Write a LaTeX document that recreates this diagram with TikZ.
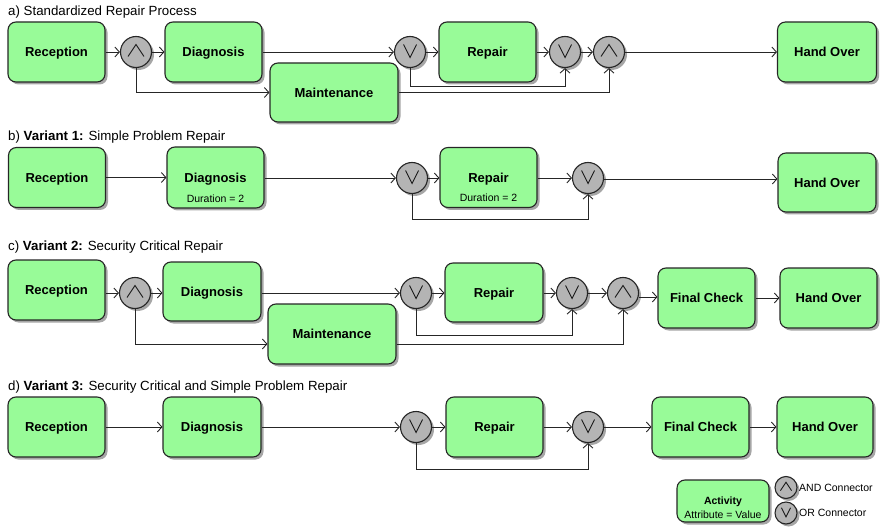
\documentclass[tikz,border=0pt]{standalone}
\usepackage{fontspec}
\setmainfont{Liberation Sans}
\usetikzlibrary{arrows.meta,shadows,calc}
\definecolor{actgreen}{RGB}{152,251,152}
\definecolor{congray}{RGB}{180,180,180}
\tikzset{
 shad/.style={drop shadow={shadow xshift=2.5pt, shadow yshift=-2.5pt, opacity=0.35, fill=black}},
 act/.style={draw=black!85, line width=1.1pt, rounded corners=8pt, fill=actgreen, minimum width=97pt, minimum height=60pt, inner sep=0pt, text height=9.4pt, text depth=0pt, font=\fontsize{13}{15}\selectfont\bfseries, shad},
 con/.style={circle, draw=black!85, line width=1.1pt, fill=congray, minimum size=31pt, inner sep=0pt, shad},
 arr/.style={draw=black!85, line width=0.9pt, -{Straight Barb[length=4.5pt,width=10pt]}},
 sym/.style={draw=black!90, line width=0.9pt},
 title/.style={anchor=west, font=\fontsize{13.3}{15}\selectfont, inner sep=0pt},
 attr/.style={font=\fontsize{10.5}{12}\selectfont, inner sep=0pt}
}
\newcommand\andmark[2][1]{\draw[sym] ([xshift=-8pt*#1,yshift=-4.5pt*#1]#2.center) -- ([yshift=7.5pt*#1]#2.center) -- ([xshift=8pt*#1,yshift=-4.5pt*#1]#2.center);}
\newcommand\ormark[2][1]{\draw[sym] ([xshift=-6.5pt*#1,yshift=7.5pt*#1]#2.center) -- ([yshift=-5.5pt*#1]#2.center) -- ([xshift=6.5pt*#1,yshift=7.5pt*#1]#2.center);}
\begin{document}
\begin{tikzpicture}[x=1pt,y=-1pt]
\useasboundingbox (0,0) rectangle (880,529);
% titles
\node[title] (ta) at (8,12) {a) Standardized Repair Process};
\node[title] (tb) at (8,137) {b) \textbf{Variant 1:} Simple Problem Repair};
\node[title] (tc) at (8,247) {c) \textbf{Variant 2:} Security Critical Repair};
\node[title] (td) at (8,387) {d) \textbf{Variant 3:} Security Critical and Simple Problem Repair};

% ---------- row a ----------
\node[act] (reca) at (56.5,52) {Reception};
\node[con] (anda1) at (136,52) {};
\node[act] (diaga) at (213.5,52) {Diagnosis};
\node[act, minimum width=128pt, minimum height=59pt] (mainta) at (334,92.5) {Maintenance};
\node[con] (ora1) at (410,52) {};
\node[act] (repa) at (487.5,52) {Repair};
\node[con] (ora2) at (565,52) {};
\node[con] (anda2) at (609,52) {};
\node[act, minimum width=99pt] (handa) at (827,52) {Hand Over};
\andmark{anda1}\ormark{ora1}\ormark{ora2}\andmark{anda2}
\coordinate (la) at (0,86);
\draw[arr] (reca) -- (anda1);
\draw[arr] (anda1) -- (diaga);
\draw[arr] (anda1.south) |- (mainta.west);
\draw[arr] (diaga) -- (ora1);
\draw[arr] (ora1) -- (repa);
\draw[arr] (repa) -- (ora2);
\draw[arr] (ora2) -- (anda2);
\draw[arr] (anda2) -- (handa);
\draw[arr] (ora1.south) -- (ora1 |- la) -| (ora2.south);
\draw[arr] (mainta.east) -| (anda2.south);

% ---------- row b ----------
\node[act] (recb) at (57,177.5) {Reception};
\node[act, minimum height=61pt] (diagb) at (215.5,177.5) {Diagnosis};
\node[attr] (durb1) at ([yshift=10pt]diagb.south) {Duration = 2};
\node[con] (orb1) at (412,178) {};
\node[act] (repb) at (488.5,177.5) {Repair};
\node[attr] (durb2) at ([yshift=10pt]repb.south) {Duration = 2};
\node[con] (orb2) at (588,178) {};
\node[act, minimum width=98pt, minimum height=59pt] (handb) at (827,182.5) {Hand Over};
\ormark{orb1}\ormark{orb2}
\coordinate (lb) at (0,219);
\draw[arr] (recb) -- (diagb);
\draw[arr] (diagb.east |- orb1) -- (orb1);
\draw[arr] (orb1) -- (orb1 -| repb.west);
\draw[arr] (repb.east |- orb2) -- (orb2);
\draw[arr] ([yshift=-1pt]orb2.east) -- ([yshift=-1pt]orb2.east -| handb.west);
\draw[arr] (orb1.south) -- (orb1 |- lb) -| (orb2.south);

% ---------- row c ----------
\node[act] (recc) at (56.5,290) {Reception};
\node[con] (andc1) at (135,293) {};
\node[act, minimum width=98pt, minimum height=59pt] (diagc) at (212,291.5) {Diagnosis};
\node[act, minimum width=128pt] (maintc) at (332,334) {Maintenance};
\node[con] (orc1) at (416,293) {};
\node[act, minimum width=98pt, minimum height=59pt] (repc) at (494,292.5) {Repair};
\node[con] (orc2) at (572,293) {};
\node[con] (andc2) at (623,293) {};
\node[act] (fcc) at (706.5,298) {Final Check};
\node[act] (handc) at (828.5,298) {Hand Over};
\andmark{andc1}\ormark{orc1}\ormark{orc2}\andmark{andc2}
\coordinate (lc) at (0,335);
\coordinate (lcm) at (0,344);
\draw[arr] (recc.east |- andc1) -- (andc1);
\draw[arr] (andc1) -- (andc1 -| diagc.west);
\draw[arr] (andc1.south) |- (maintc.west |- lcm);
\draw[arr] (diagc.east |- orc1) -- (orc1);
\draw[arr] (orc1) -- (orc1 -| repc.west);
\draw[arr] (repc.east |- orc2) -- (orc2);
\draw[arr] (orc2) -- (andc2);
\draw[arr] ([yshift=-4pt]andc2.east) -- ([yshift=-4pt]andc2.east -| fcc.west);
\draw[arr] (fcc) -- (handc);
\draw[arr] (orc1.south) -- (orc1 |- lc) -| (orc2.south);
\draw[arr] (maintc.east |- lcm) -| (andc2.south);

% ---------- row d ----------
\node[act] (recd) at (56.5,427) {Reception};
\node[act, minimum width=98pt] (diagd) at (212,427) {Diagnosis};
\node[con] (ord1) at (416,427) {};
\node[act] (repd) at (494.5,427) {Repair};
\node[con] (ord2) at (588,427) {};
\node[act] (fcd) at (700.5,427) {Final Check};
\node[act, minimum width=96pt] (handd) at (825,427) {Hand Over};
\ormark{ord1}\ormark{ord2}
\coordinate (ld) at (0,469);
\draw[arr] (recd) -- (diagd);
\draw[arr] (diagd) -- (ord1);
\draw[arr] (ord1) -- (repd);
\draw[arr] (repd) -- (ord2);
\draw[arr] (ord2) -- (fcd);
\draw[arr] (fcd) -- (handd);
\draw[arr] (ord1.south) -- (ord1 |- ld) -| (ord2.south);

% ---------- legend ----------
\node[act, minimum width=92pt, minimum height=42pt] (lega) at (723,501) {};
\node[attr, font=\fontsize{10.5}{12}\selectfont\bfseries] (legat) at (723,502) {Activity};
\node[attr] (legav) at (723,514.5) {Attribute = Value};
\node[con, minimum size=22pt] (legand) at (786,487.5) {};
\node[con, minimum size=22pt] (legor) at (786,513) {};
\andmark[0.7]{legand}\ormark[0.7]{legor}
\node[attr, anchor=west] (legandt) at (799,487.5) {AND Connector};
\node[attr, anchor=west] (legort) at (799,513) {OR Connector};
\end{tikzpicture}
\end{document}
